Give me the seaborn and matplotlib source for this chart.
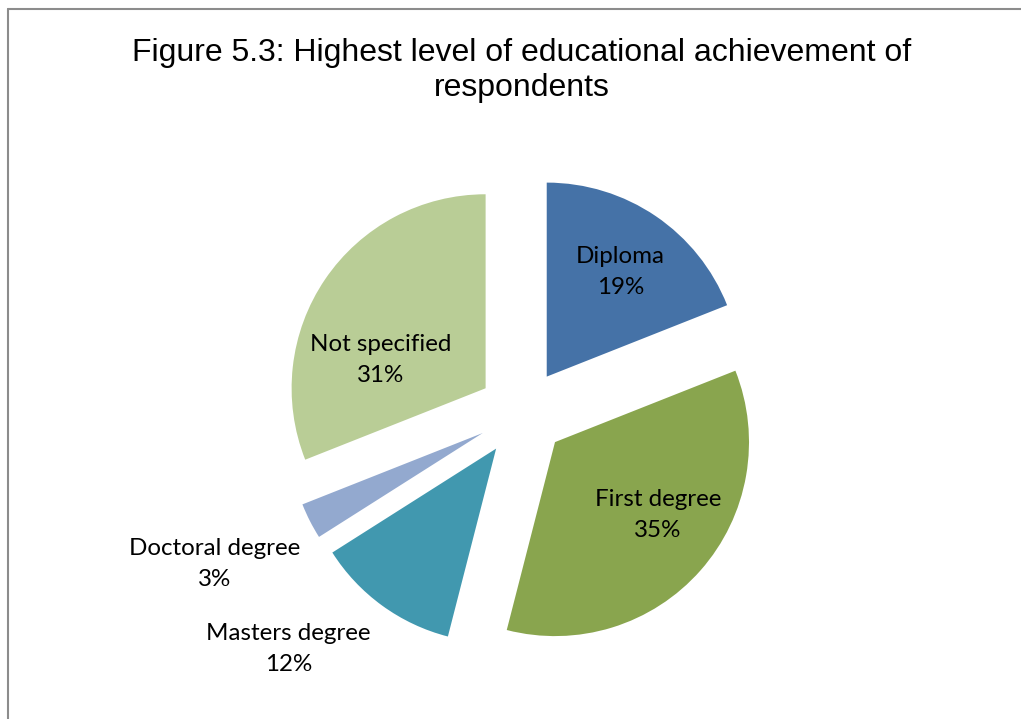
import numpy as np
import seaborn as sns
import matplotlib.pyplot as plt
from matplotlib.lines import Line2D

# Data
categories = ["Diploma", "First degree", "Masters degree", "Doctoral degree", "Not specified"]
percent = [19, 35, 12, 3, 31]
colors = ["#4572A7", "#89A54E", "#4198AF", "#93A9CF", "#B9CD96"]

title = "Figure 5.3: Highest level of educational achievement of\nrespondents"

sns.set_style("white")
plt.rcParams["font.family"] = ["Lato", "DejaVu Sans"]

fig = plt.figure(figsize=(10.21, 7.19), dpi=100)
ax = fig.add_axes([0, 0, 1, 1])

center = (522, 306)
radius = 194
explode = [44] * len(percent)  # pie offsets in data units (pixels here)

wedges, _ = ax.pie(
    percent,
    colors=colors,
    startangle=90,
    counterclock=False,
    explode=explode,
    center=center,
    radius=radius,
    wedgeprops={"linewidth": 0},
    frame=True,
)
ax.set_xlim(0, 1021)
ax.set_ylim(0, 719)
ax.set_aspect("equal")
ax.axis("off")

# label placement, relative to each exploded wedge's tip
label_dist = [0.66, 0.65, 1.49, 1.54, 0.56]
angle_shift = [1, -6, 10, 1, -19]
for w, name, p, d, s in zip(wedges, categories, percent, label_dist, angle_shift):
    mid = np.deg2rad((w.theta1 + w.theta2) / 2 - s)
    cx, cy = w.center
    x = cx + d * radius * np.cos(mid)
    y = cy + d * radius * np.sin(mid)
    ax.text(x, y, f"{name}\n{p}%", ha="center", va="center",
            fontsize=17.4, color="black", linespacing=1.58)

fig.text(0.511, 0.902, title, ha="center", va="center", fontsize=23, color="black",
         family=["Liberation Sans", "DejaVu Sans"], linespacing=1.22)

# chart frame (cropped on right and bottom)
fig.add_artist(Line2D([8 / 1021, 1], [1 - 9 / 719, 1 - 9 / 719], color="#8c8c8c", lw=1.5,
                      transform=fig.transFigure))
fig.add_artist(Line2D([8 / 1021, 8 / 1021], [0, 1 - 9 / 719], color="#8c8c8c", lw=1.5,
                      transform=fig.transFigure))

plt.savefig("out.png", dpi=100)
